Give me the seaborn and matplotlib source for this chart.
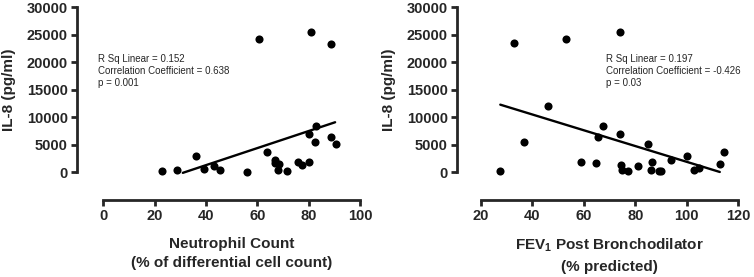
import matplotlib
matplotlib.use('Agg')
import matplotlib.pyplot as plt
import seaborn as sns
import pandas as pd

# Values
neut_x = [22.8, 28.8, 36.0, 39.4, 43.0, 45.5, 56.1, 60.5, 63.7, 66.7, 67.0, 68.6,
          68.0, 71.5, 76.0, 77.4, 80.0, 80.0, 81.0, 82.7, 82.6, 88.7, 88.7, 90.5]
neut_y = [250, 360, 2900, 670, 1150, 420, 120, 24200, 3640, 2180, 1640, 1450,
          480, 240, 1790, 1270, 1900, 6880, 25500, 8480, 5450, 23400, 6360, 5090]
neut_fit_x = [31.0, 90.3]
neut_fit_y = [-100, 9100]

fev_x = [27.5, 32.9, 36.7, 46.2, 53.0, 59.0, 64.7, 65.6, 67.3, 74.0, 74.1, 74.4, 74.9,
         77.3, 80.9, 84.8, 86.0, 86.5, 89.2, 90.0, 93.8, 99.9, 102.9, 104.9, 112.8, 114.4]
fev_y = [300, 23500, 5500, 12100, 24200, 1940, 1700, 6420, 8480, 25500, 6900, 1390, 420,
         180, 1210, 5150, 480, 1820, 240, 240, 2180, 3030, 420, 850, 1580, 3700]
fev_fit_x = [27.5, 112.8]
fev_fit_y = [12300, 60]

neut_stats = 'R Sq Linear = 0.152\nCorrelation Coefficient = 0.638\np = 0.001'
fev_stats = 'R Sq Linear = 0.197\nCorrelation Coefficient = -0.426\np = 0.03'

sns.set_style('ticks')
plt.rcParams['font.family'] = ['Liberation Sans', 'DejaVu Sans']
plt.rcParams['mathtext.fontset'] = 'custom'
plt.rcParams['mathtext.rm'] = 'Liberation Sans:bold'
plt.rcParams['mathtext.bf'] = 'Liberation Sans:bold'

fig = plt.figure(figsize=(7.54, 2.77), dpi=100)
ax1 = fig.add_axes([0.1021, 0.278, 0.3754, 0.6956])
ax2 = fig.add_axes([0.6057, 0.278, 0.3735, 0.6956])

panels = [
    (ax1, neut_x, neut_y, neut_fit_x, neut_fit_y, (-10.2, 100), (0, 100), [0, 20, 40, 60, 80, 100],
     'Neutrophil Count\n(% of differential cell count)', 0.547, neut_stats, 0.075),
    (ax2, fev_x, fev_y, fev_fit_x, fev_fit_y, (10.56, 120), (20, 120), [20, 40, 60, 80, 100, 120],
     r'FEV$_{\mathbf{1}}$ Post Bronchodilator' + '\n(% predicted)', 0.543, fev_stats, 0.530),
]

for ax, xs, ys, fx, fy, xlim, xbounds, xticks, xlabel, xlab_pos, stats, tx in panels:
    df = pd.DataFrame({'x': xs, 'y': ys})
    fit = pd.DataFrame({'x': fx, 'y': fy})
    sns.lineplot(data=fit, x='x', y='y', ax=ax, color='black', linewidth=1.7)
    sns.scatterplot(data=df, x='x', y='y', ax=ax, color='black', s=34,
                    edgecolor='black', linewidth=0, clip_on=False, zorder=3)
    ax.set_xlim(*xlim)
    ax.set_ylim(-5036, 30000)
    ax.set_xticks(xticks)
    ax.set_yticks([0, 5000, 10000, 15000, 20000, 25000, 30000])
    ax.spines['top'].set_visible(False)
    ax.spines['right'].set_visible(False)
    ax.spines['left'].set_bounds(0, 30000)
    ax.spines['bottom'].set_bounds(*xbounds)
    for s in ['left', 'bottom']:
        ax.spines[s].set_linewidth(2.0)
    ax.tick_params(width=2.0, length=4.5, labelsize=10.5, pad=2)
    for lab in ax.get_xticklabels() + ax.get_yticklabels():
        lab.set_fontweight('bold')
    ax.set_xlabel(xlabel, fontsize=11, fontweight='bold', linespacing=1.5)
    ax.xaxis.set_label_coords(xlab_pos, -0.19)
    ax.set_ylabel('IL-8 (pg/ml)', fontsize=11, fontweight='bold')
    ax.yaxis.set_label_coords(-0.216, 0.572)
    ax.text(tx, 0.76, stats, transform=ax.transAxes, fontsize=7, va='top',
            ha='left', linespacing=1.3,
            family=['Liberation Sans Narrow', 'Liberation Sans'])

plt.savefig('out.png', dpi=100)
plt.close()
